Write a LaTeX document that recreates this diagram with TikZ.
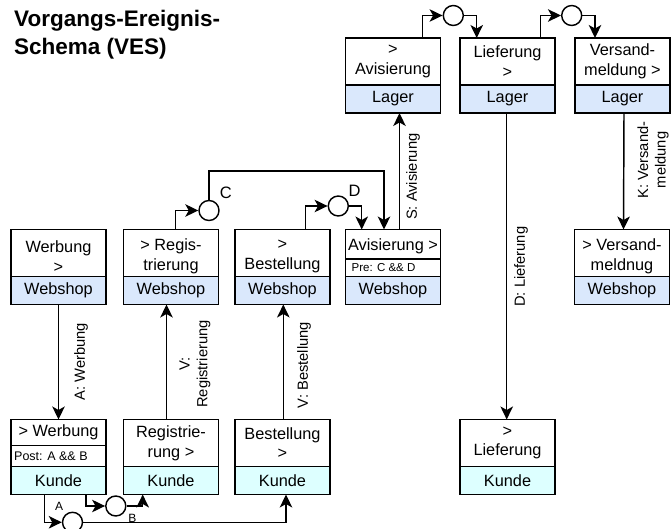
\documentclass[tikz,border=0pt]{standalone}
\usepackage{fontspec}
\setmainfont{Liberation Sans}
\usetikzlibrary{arrows.meta}

\definecolor{shopfill}{HTML}{DAE8FC}
\definecolor{custfill}{HTML}{DDFFFF}

\newcommand{\boxfont}{\fontsize{16.3}{19.6}\selectfont}
\newcommand{\lblfont}{\fontsize{14.7}{17.6}\selectfont}
\newcommand{\notefont}{\fontsize{12}{14}\selectfont}
\newcommand{\titlefont}{\fontsize{22.5}{27.7}\selectfont\bfseries}

\begin{document}
\begin{tikzpicture}[x=1pt, y=-1pt,
  frame/.style={draw, line width=1.9pt, minimum width=95pt, inner sep=0pt,
    outer sep=0pt, font=\boxfont, align=center},
  head/.style={frame, fill=white, minimum height=47pt},
  note/.style={frame, fill=white},
  shop/.style={frame, fill=shopfill, minimum height=28pt},
  cust/.style={frame, fill=custfill, minimum height=28pt},
  txt/.style={font=\boxfont, align=center, inner sep=0pt},
  notetxt/.style={font=\notefont, anchor=west, inner sep=0pt},
  flow/.style={line width=1.45pt, -{Stealth[length=13pt, width=12.5pt, inset=3.5pt]}},
  evt/.style={circle, draw, line width=1.45pt, fill=white, minimum size=20pt, inner sep=0pt},
  flowlbl/.style={font=\lblfont, align=center, inner sep=0pt, rotate=90},
  evtlbl/.style={font=\fontsize{16.5}{19}\selectfont, inner sep=0pt},
  smalllbl/.style={font=\fontsize{12}{14}\selectfont, inner sep=0pt}]

\useasboundingbox (0,0) rectangle (672,529);

% title
\node[anchor=north west, inner sep=0pt, font=\titlefont, align=left] (title)
  at (14,10.2) {Vorgangs-Ereignis-\\Schema (VES)};

% ---- Lager row
\node[head, anchor=north] (l1) at (393,38) {>\\Avisierung};
\node[shop, anchor=north] (l1s) at (l1.south) {Lager};
\node[head, anchor=north] (l2) at (507.5,38) {Lieferung\\>};
\node[shop, anchor=north] (l2s) at (l2.south) {Lager};
\node[head, anchor=north] (l3) at (622.5,38) {Versand-\\meldung >};
\node[shop, anchor=north] (l3s) at (l3.south) {Lager};

% ---- Webshop row
\node[head, anchor=north] (w1) at (58.5,229.5) {};
\node[txt] (w1t) at ([yshift=-3.5pt]w1.center) {Werbung\\>};
\node[shop, anchor=north] (w1s) at (w1.south) {Webshop};

\node[head, anchor=north] (w2) at (171,229.5) {};
\node[txt] (w2t) at ([yshift=-3.5pt]w2.center) {> Regis-\\trierung};
\node[shop, anchor=north] (w2s) at (w2.south) {Webshop};

\node[head, anchor=north] (w3) at (282.5,229.5) {};
\node[txt] (w3t) at ([yshift=-3.5pt]w3.center) {>\\Bestellung};
\node[shop, anchor=north] (w3s) at (w3.south) {Webshop};

\node[head, minimum height=29.5pt, anchor=north] (w4) at (393,229.5) {};
\node[txt] (w4t) at ([yshift=-2.5pt]w4.center) {Avisierung >};
\node[note, minimum height=17.5pt, anchor=north] (w4p) at (w4.south) {};
\node[notetxt, font=\fontsize{11.5}{13}\selectfont] (w4pt) at ([xshift=6pt]w4p.west) {Pre: C \&\& D};
\node[shop, anchor=north] (w4s) at (w4p.south) {Webshop};

\node[head, anchor=north] (w5) at (622,229.5) {};
\node[txt] (w5t) at ([yshift=-3pt]w5.center) {> Versand-\\meldnug};
\node[shop, anchor=north] (w5s) at (w5.south) {Webshop};

% ---- Kunde row
\node[head, minimum height=26pt, anchor=north] (k1) at (58.5,419.5) {> Werbung};
\node[note, minimum height=21pt, anchor=north] (k1p) at (k1.south) {};
\node[notetxt, font=\fontsize{12.5}{14}\selectfont] (k1pt) at ([xshift=3pt]k1p.west) {Post: A \&\& B};
\node[cust, anchor=north] (k1s) at (k1p.south) {Kunde};

\node[head, anchor=north] (k2) at (171,419.5) {Registrie-\\rung >};
\node[cust, anchor=north] (k2s) at (k2.south) {Kunde};

\node[head, anchor=north] (k3) at (282.5,419.5) {Bestellung\\>};
\node[cust, anchor=north] (k3s) at (k3.south) {Kunde};

\node[head, anchor=north] (k4) at (507.5,419.5) {>\\Lieferung};
\node[cust, anchor=north] (k4s) at (k4.south) {Kunde};

% ---- events
\node[evt] (e1) at (453.3,15.5) {};
\node[evt] (e2) at (571.7,15.5) {};
\node[evt] (ec) at (209,210.5) {};
\node[evt] (ed) at (338.3,206) {};
\node[evt] (ea) at (72.5,522.3) {};
\node[evt] (eb) at (115.8,506) {};

\node[evtlbl] (lc) at (225.8,192.8) {C};
\node[evtlbl] (ldd) at (354.5,191.2) {D};
\node[smalllbl] (laa) at (59.2,506.7) {A};
\node[smalllbl] (lbb) at (132.5,518.3) {B};

% ---- event connectors
\draw[flow] ([xshift=29.7pt]l1.north) |- (e1.west);
\draw[flow] (e1.east) -| ([xshift=-30.8pt]l2.north);
\draw[flow] ([xshift=33.2pt]l2.north) |- (e2.west);
\draw[flow] (e2.east) -| ([xshift=-27.5pt]l3.north);

\draw[flow] ([xshift=4.7pt]w2.north) |- (ec.west);
\draw[flow] (ec.north) |- ([xshift=-9pt,yshift=58.5pt]w4.north) -- ([xshift=-9pt]w4.north);
\draw[flow] ([xshift=23.2pt]w3.north) |- (ed.west);
\draw[flow] (ed.east) -| ([xshift=-31.3pt]w4.north);

\draw[flow] ([xshift=-14.2pt]k1s.south) |- (ea.west);
\draw[flow] (ea.east) -| ([xshift=3.5pt]k3s.south);
\draw[flow] ([xshift=27.5pt]k1s.south) |- (eb.west);
\draw[flow] (eb.east) -| ([xshift=-28.3pt]k2s.south);

% ---- message flows
\draw[flow] (w1s.south) -- (k1.north);
\draw[flow] ([xshift=-4.5pt]k2.north) -- ([xshift=-4.5pt]w2s.south);
\draw[flow] ([xshift=0.8pt]k3.north) -- ([xshift=0.8pt]w3s.south);
\draw[flow] ([xshift=6.5pt]w4.north) -- ([xshift=6.5pt]l1s.south);
\draw[flow] ([xshift=-0.8pt]l2s.south) -- ([xshift=-0.8pt]k4.north);
\draw[flow] ([xshift=1.5pt]l3s.south) -- ([xshift=1.5pt]w5.north);

\node[flowlbl] (la) at (81,361.7) {A: Werbung};
\node[flowlbl] (lvr) at (195,364) {V:\\Registrierung};
\node[flowlbl] (lvb) at (304,365) {V: Bestellung};
\node[flowlbl] (ls) at (413,176.7) {S: Avisierung};
\node[flowlbl] (ld) at (521,266.7) {D: Lieferung};
\node[flowlbl] (lk) at (653,160) {K: Versand-\\meldung};

\end{tikzpicture}
\end{document}
